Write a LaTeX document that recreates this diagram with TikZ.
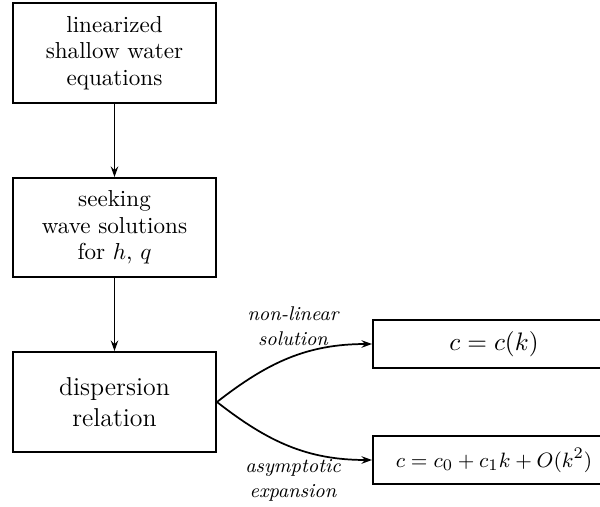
\documentclass[tikz,border=0pt]{standalone}
\usetikzlibrary{arrows.meta}
\newlength\upx
\setlength\upx{0.433pt}
\begin{document}
\begin{tikzpicture}[x=1\upx,y=-1\upx,
  box/.style={draw,line width=0.85pt,rectangle,align=center,inner sep=0pt,font=\fontsize{10}{11.4}\selectfont},
  conn/.style={line width=0.75pt,-{Stealth[length=4.5pt,width=3.2pt]}},
  lbl/.style={align=center,font=\fontsize{8.6}{10.8}\selectfont\itshape}]
\useasboundingbox (0,0) rectangle (600,506);
\clip (0,0) rectangle (600,506);
\node[box,minimum width=203\upx,minimum height=100\upx] (a) at (114.5,53) {linearized\\shallow water\\equations};
\node[box,minimum width=203\upx,minimum height=99\upx] (b) at (114.5,227.5) {seeking\\wave solutions\\for $h$, $q$};
\node[box,minimum width=203\upx,minimum height=100\upx,font=\fontsize{11.2}{13.2}\selectfont] (c) at (114.5,402) {dispersion\\relation};
\node[box,minimum width=242\upx,minimum height=48\upx,font=\fontsize{11}{13}\selectfont] (d) at (494,344) {$c=c(k)$};
\node[box,minimum width=242\upx,minimum height=48\upx,font=\fontsize{9.4}{11}\selectfont] (e) at (494,460) {$c=c_0+c_1k+O(k^2)$};
\draw[conn] (a) -- (b);
\draw[conn] (b) -- (c);
\draw[conn] (c.east) to[out=38,in=180] (d.west);
\draw[conn] (c.east) to[out=-38,in=180] (e.west);
\node[lbl] (l1) at (293,326) {non-linear\\solution};
\node[lbl] (l2) at (293,480) {asymptotic\\expansion};
\end{tikzpicture}
\end{document}
